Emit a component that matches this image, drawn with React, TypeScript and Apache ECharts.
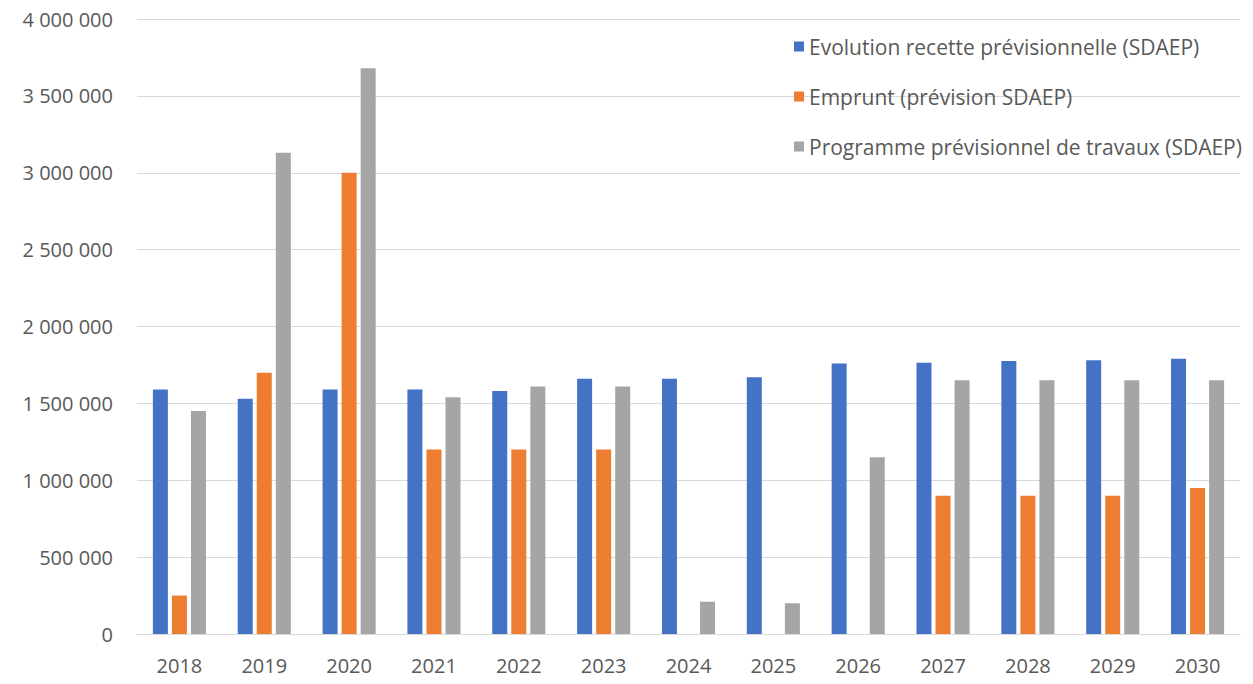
import React, { useEffect, useRef } from "react";
import * as echarts from "echarts";

const years = ["2018", "2019", "2020", "2021", "2022", "2023", "2024", "2025", "2026", "2027", "2028", "2029", "2030"];
const recette = [1590000, 1530000, 1590000, 1590000, 1580000, 1660000, 1660000, 1670000, 1760000, 1765000, 1775000, 1780000, 1790000];
const emprunt = [250000, 1700000, 3000000, 1200000, 1200000, 1200000, 0, 0, 0, 900000, 900000, 900000, 950000];
const travaux = [1450000, 3130000, 3680000, 1540000, 1610000, 1610000, 210000, 200000, 1150000, 1650000, 1650000, 1650000, 1650000];
const seriesNames = [
  "Evolution recette prévisionnelle (SDAEP)",
  "Emprunt (prévision SDAEP)",
  "Programme prévisionnel de travaux (SDAEP)",
];
const colors = ["#4472C4", "#ED7D31", "#A5A5A5"];

const fmt = (v: number) => String(Math.round(v)).replace(/\B(?=(\d{3})+(?!\d))/g, " ");

export default function App() {
  const ref = useRef<HTMLDivElement>(null);
  useEffect(() => {
    if (!ref.current) return;
    const chart = echarts.init(ref.current, null, { renderer: "svg" });
    const font = "'Open Sans', sans-serif";
    const mk = (name: string, data: number[], color: string) => ({
      name,
      type: "bar",
      data,
      barWidth: 15,
      barGap: "27%",
      itemStyle: { color },
    });
    chart.setOption({
      animation: false,
      backgroundColor: "#ffffff",
      textStyle: { fontFamily: font },
      grid: { left: 137, right: 13, top: 19, bottom: 50 },
      legend: {
        orient: "vertical",
        left: 789,
        top: 31,
        itemWidth: 10,
        itemHeight: 10,
        itemGap: 29,
        icon: "rect",
        textStyle: { fontSize: 21, color: "#595959", fontFamily: font },
        data: seriesNames,
      },
      xAxis: {
        type: "category",
        data: years,
        axisLine: { lineStyle: { color: "#d9d9d9" } },
        axisTick: { show: false },
        axisLabel: { fontSize: 20, color: "#595959", margin: 21, fontFamily: font },
      },
      yAxis: {
        type: "value",
        min: 0,
        max: 4000000,
        interval: 500000,
        axisLine: { show: false },
        axisTick: { show: false },
        splitLine: { lineStyle: { color: "#d9d9d9" } },
        axisLabel: { fontSize: 20, color: "#595959", margin: 24, formatter: fmt, fontFamily: font },
      },
      series: [
        mk(seriesNames[0], recette, colors[0]),
        mk(seriesNames[1], emprunt, colors[1]),
        mk(seriesNames[2], travaux, colors[2]),
      ],
    });
    return () => chart.dispose();
  }, []);
  return <div ref={ref} style={{ position: "fixed", left: 0, top: 0, width: 1253, height: 684 }} />;
}
